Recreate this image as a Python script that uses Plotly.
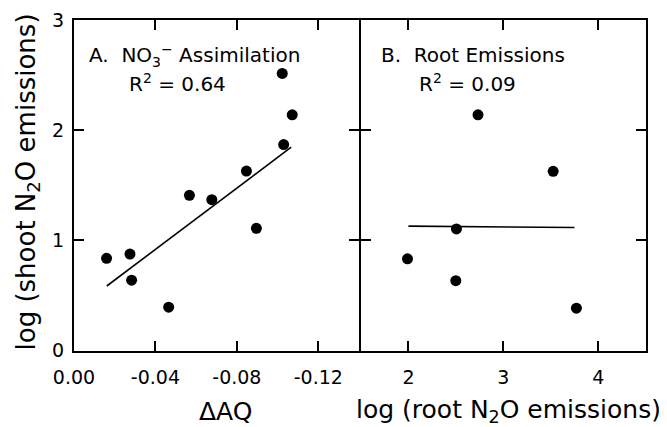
import plotly.graph_objects as go

# ---- data ----
dAQ = [-0.016, -0.0275, -0.0283, -0.0465, -0.0567, -0.0677, -0.0847, -0.0896, -0.1023, -0.1030, -0.1072]
shootA = [0.838, 0.877, 0.640, 0.395, 1.410, 1.370, 1.630, 1.110, 2.515, 1.870, 2.140]
fitA_x = [-0.0161, -0.1067]
fitA_y = [0.587, 1.846]

root = [1.99, 2.506, 2.499, 2.733, 3.525, 3.770]
shootB = [0.834, 1.105, 0.635, 2.140, 1.627, 0.386]
fitB_x = [2.00, 3.75]
fitB_y = [1.130, 1.117]

xA_ticks = [0, -0.04, -0.08, -0.12]
xA_text = ["0.00", "-0.04", "-0.08", "-0.12"]
xB_ticks = [2, 3, 4]
y_ticks = [0, 1, 2, 3]

# page body has an 8px margin; size the figure so it fits the 667x427 window
OFF = 8
W, H = 667 - OFF, 427 - OFF
FONT = "DejaVu Sans, Liberation Sans, Arial, sans-serif"

def px(x):
    return (x - OFF) / W

def py(y):
    return 1 - (y - OFF) / H

fig = go.Figure()
mk = dict(color="black", size=11)
fig.add_trace(go.Scatter(x=dAQ, y=shootA, mode="markers", marker=mk, xaxis="x", yaxis="y", showlegend=False))
fig.add_trace(go.Scatter(x=fitA_x, y=fitA_y, mode="lines", line=dict(color="black", width=1.6), xaxis="x", yaxis="y", showlegend=False))
fig.add_trace(go.Scatter(x=root, y=shootB, mode="markers", marker=mk, xaxis="x2", yaxis="y2", showlegend=False))
fig.add_trace(go.Scatter(x=fitB_x, y=fitB_y, mode="lines", line=dict(color="black", width=1.6), xaxis="x2", yaxis="y2", showlegend=False))

LW = 2
ydom = [py(351.7 - LW / 2), py(19 + LW / 2)]
common = dict(showgrid=False, zeroline=False, showline=True, linecolor="black", linewidth=LW,
              mirror="ticks", ticks="inside", ticklen=10, tickwidth=1.5, tickcolor="black",
              automargin=False,
              tickfont=dict(family=FONT, size=19, color="black"))

fig.update_layout(
    width=W, height=H,
    margin=dict(l=0, r=0, t=0, b=0),
    paper_bgcolor="white", plot_bgcolor="white",
    xaxis=dict(domain=[px(73 + LW / 2), px(360 - LW / 2)], range=[0, -0.14], tickvals=xA_ticks, ticktext=xA_text,
               anchor="y", ticklabelstandoff=8, **common),
    yaxis=dict(domain=ydom, range=[0, 3], tickvals=y_ticks, anchor="x", ticklabelstandoff=4, **common),
    xaxis2=dict(domain=[px(360 + LW / 2), px(646.7 - LW / 2)], range=[1.5, 4.5], tickvals=xB_ticks, anchor="y2",
                ticklabelstandoff=8, **common),
    yaxis2=dict(domain=ydom, range=[0, 3], tickvals=y_ticks, anchor="x2", showticklabels=False, **common),
)

ann_font = dict(family=FONT, size=20, color="black")
xtitle_font = dict(family=FONT, size=25, color="black")
ytitle_font = dict(family=FONT, size=26, color="black")
anns = [
    dict(x=px(87), y=py(55), text="A.\u00a0\u00a0NO<sub>3</sub><sup>\u2212</sup> Assimilation", xanchor="left", yanchor="middle", font=ann_font),
    dict(x=px(127), y=py(83), text="R<sup>2</sup> = 0.64", xanchor="left", yanchor="middle", font=ann_font),
    dict(x=px(379), y=py(55), text="B.\u00a0\u00a0Root Emissions", xanchor="left", yanchor="middle", font=ann_font),
    dict(x=px(417), y=py(83), text="R<sup>2</sup> = 0.09", xanchor="left", yanchor="middle", font=ann_font),
    dict(x=px(225), y=py(411), text="\u0394AQ", xanchor="center", yanchor="middle", font=xtitle_font),
    dict(x=px(663), y=py(411), text="log (root N<sub>2</sub>O emissions)", xanchor="right", yanchor="middle", font=xtitle_font),
    dict(x=px(9), y=py(182), text="log (shoot N<sub>2</sub>O emissions)", textangle=-90, xanchor="left", yanchor="middle", font=ytitle_font),
]
for a in anns:
    a.update(xref="paper", yref="paper", showarrow=False)
fig.update_layout(annotations=anns)

fig.write_html("out.html")
